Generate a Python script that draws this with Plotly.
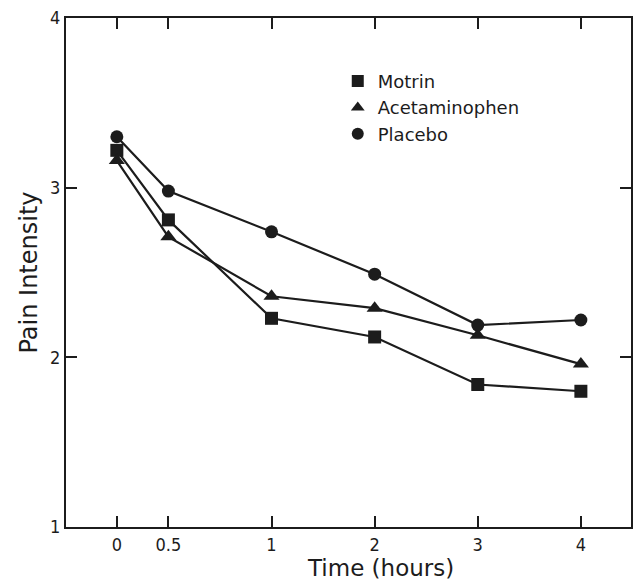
import plotly.graph_objects as go

# ---- data ----
time_hours = [0, 0.5, 1, 2, 3, 4]
tick_labels = ["0", "0.5", "1", "2", "3", "4"]
motrin = [3.22, 2.81, 2.23, 2.12, 1.84, 1.80]
acetaminophen = [3.16, 2.71, 2.36, 2.29, 2.13, 1.96]
placebo = [3.30, 2.98, 2.74, 2.49, 2.19, 2.22]


# The original time axis is stretched after 0.5 h (0-0.5 drawn as half an hour-step)
def axis_pos(t):
    return t if t <= 0.5 else t + 0.5


xs = [axis_pos(t) for t in time_hours]

ink = "#1c1c1c"
fig = go.Figure()
series = [
    ("Motrin", motrin, "square", 13),
    ("Acetaminophen", acetaminophen, "triangle-up", 14),
    ("Placebo", placebo, "circle", 13),
]
for name, vals, sym, sz in series:
    fig.add_trace(go.Scatter(
        x=xs, y=vals, name=name, mode="lines+markers", showlegend=False,
        line=dict(color=ink, width=2.2),
        marker=dict(symbol=sym, size=sz, color=ink),
    ))
# legend entries: marker only, as in the original key
for name, vals, sym, sz in series:
    fig.add_trace(go.Scatter(
        x=[None], y=[None], name=name, mode="markers", showlegend=True,
        marker=dict(symbol=sym, size=sz - 1, color=ink),
    ))

tick_font = dict(family="DejaVu Sans Condensed, DejaVu Sans", size=18, color=ink)
fig.update_layout(
    width=640, height=580,
    margin=dict(l=66, r=7, t=14, b=53),
    paper_bgcolor="white", plot_bgcolor="white",
    font=dict(family="DejaVu Sans", color=ink),
    showlegend=True,
    legend=dict(x=0.481, y=0.912, xanchor="left", yanchor="top",
                font=dict(family="DejaVu Sans", size=18, color=ink),
                bgcolor="rgba(0,0,0,0)", tracegroupgap=0, itemsizing="constant"),
    xaxis=dict(range=[-0.493, 4.986], tickmode="array",
               tickvals=xs, ticktext=tick_labels,
               ticks="inside", ticklen=11, tickwidth=2, tickcolor=ink,
               showline=True, linewidth=2, linecolor=ink, mirror="ticks",
               showgrid=False, zeroline=False, tickfont=tick_font),
    yaxis=dict(range=[1, 4], tickmode="array", tickvals=[1, 2, 3, 4],
               ticks="inside", ticklen=11, tickwidth=2, tickcolor=ink,
               showline=True, linewidth=2, linecolor=ink, mirror="ticks",
               showgrid=False, zeroline=False, tickfont=tick_font,
               title=dict(text="Pain Intensity", font=dict(family="DejaVu Sans", size=24, color=ink),
                          standoff=6)),
    annotations=[dict(text="Time (hours)", x=(382 - 66) / 567, y=0, yshift=-(568 - 527),
                      xref="paper", yref="paper", xanchor="center", yanchor="middle",
                      showarrow=False, font=dict(family="DejaVu Sans", size=23, color=ink))],
)

fig.write_html("out.html")
